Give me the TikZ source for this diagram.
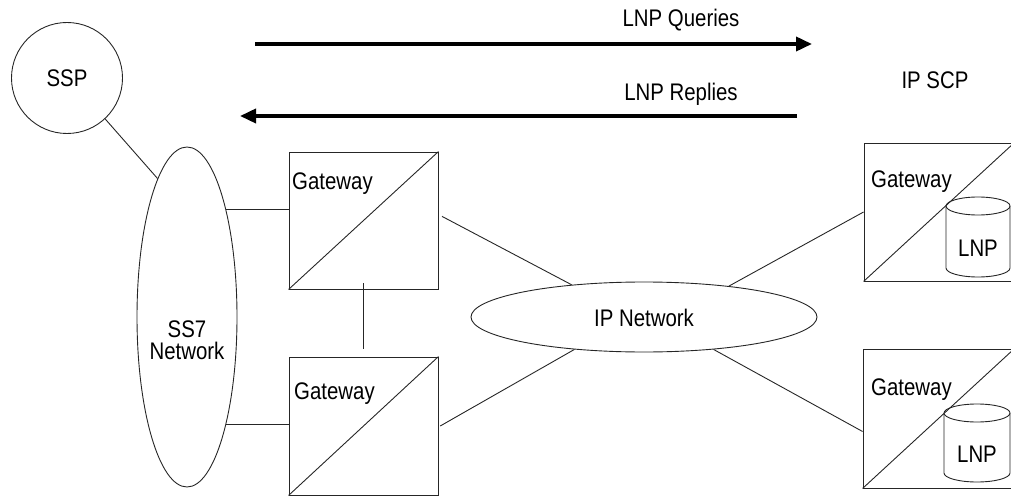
\documentclass[tikz,border=0pt]{standalone}
\usepackage{fontspec}
\setmainfont{Liberation Sans}[FakeStretch=0.85]
\usetikzlibrary{shapes.geometric,arrows.meta}
\begin{document}
\begin{tikzpicture}[x=1pt,y=-1pt,
  every node/.style={font=\fontsize{24}{25}\selectfont},
  thin line/.style={line width=0.9pt, black!85},
  gwbox/.style={draw, thin line, rectangle, inner sep=0pt},
  lbl/.style={inner sep=0pt},
  bigarrow/.style={line width=3.6pt, -{Triangle[length=16pt,width=14pt]}},
]
\useasboundingbox (0,0) rectangle (1011,497);

% nodes
\node[draw, thin line, circle, minimum size=111pt, inner sep=0pt] (ssp) at (67,78) {};
\node[lbl] at (67,78) {SSP};
\node[draw, thin line, ellipse, minimum width=100pt, minimum height=340pt, inner sep=0pt] (ss7) at (187,317) {};
\node[lbl, anchor=base] (ss7a) at (187,337) {SS7};
\node[lbl, anchor=base] (ss7b) at (187,359) {Network};

\node[gwbox, minimum width=149pt, minimum height=137pt] (g1) at (363.5,220.5) {};
\node[gwbox, minimum width=149pt, minimum height=138pt] (g2) at (363.5,426) {};
\draw[thin line] (g1.south west) -- (g1.north east);
\draw[thin line] (g2.south west) -- (g2.north east);
\node[lbl, anchor=west] at (292,184) {Gateway};
\node[lbl, anchor=west] at (294,394) {Gateway};

\node[draw, thin line, ellipse, minimum width=346pt, minimum height=70pt, inner sep=0pt] (ipn) at (644,317) {};
\node[lbl] at (644,318) {IP Network};

\node[gwbox, minimum width=150pt, minimum height=138pt] (r1) at (939,212) {};
\node[gwbox, minimum width=151pt, minimum height=139pt] (r2) at (938.5,418.5) {};
\draw[thin line] (r1.south west) -- (r1.north east);
\draw[thin line] (r2.south west) -- (r2.north east);
\node[lbl, anchor=west] at (871,182) {Gateway};
\node[lbl, anchor=west] at (871,390) {Gateway};

% databases
\draw[thin line, fill=white] (946,206) -- (946,268) arc (180:0:32 and 9) -- (1010,206);
\draw[thin line] (978,206) ellipse (32 and 9);
\node[lbl] (db1) at (978,248) {LNP};
\draw[thin line, fill=white] (944,413) -- (944,473) arc (180:0:33 and 9) -- (1010,413);
\draw[thin line] (977,413) ellipse (33 and 9);
\node[lbl] (db2) at (977,454) {LNP};

\node[lbl] (scp) at (935,80) {IP SCP};

% arrows
\coordinate (qs) at (255,44);
\coordinate (qe) at (812,44);
\coordinate (rs) at (797,116);
\coordinate (re) at (240,116);
\draw[bigarrow] (qs) -- (qe);
\draw[bigarrow] (rs) -- (re);
\node[lbl] (ql) at (681,20) {LNP Queries};
\node[lbl] (rl) at (681,94) {LNP Replies};

% connectors
\draw[thin line] (ssp.-47) -- (ss7.102);
\draw[thin line] (ss7.70) -- (ss7.70 -| g1.west);
\draw[thin line] (ss7.-70) -- (ss7.-70 -| g2.west);
\draw[thin line] ([yshift=6pt]g1.south) -- ([yshift=8pt]g2.north);
\draw[thin line, shorten <=4pt] ([yshift=6pt]g1.east) -- (ipn.156);
\draw[thin line, shorten <=2pt] ([yshift=-1pt]g2.east) -- (ipn.205);
\draw[thin line] (ipn.20) -- (r1.west);
\draw[thin line] (ipn.-25) -- ([yshift=-13pt]r2.west);
\end{tikzpicture}
\end{document}
